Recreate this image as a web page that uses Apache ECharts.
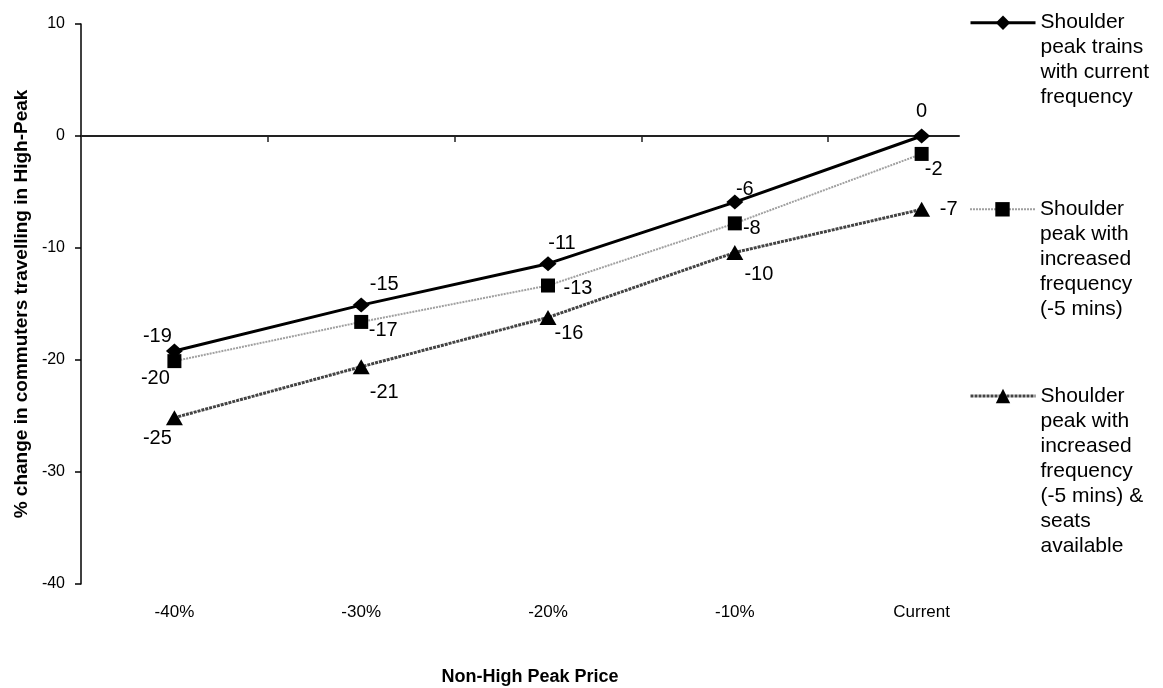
<!DOCTYPE html>
<html>
<head>
<meta charset="utf-8">
<script src="https://cdn.jsdelivr.net/npm/echarts@6/dist/echarts.min.js"></script>
<style>
  html, body { margin: 0; padding: 0; background: #fff; }
  #chart { width: 1163px; height: 688px; }
</style>
</head>
<body>
<div id="chart"></div>
<script>
// ---------- DATA ----------
const categories = ['-40%', '-30%', '-20%', '-10%', 'Current'];
const seriesNames = [
  'Shoulder peak trains with current frequency',
  'Shoulder peak with increased frequency (-5 mins)',
  'Shoulder peak with increased frequency (-5 mins) & seats available'
];
const currentFrequency = [-19.2, -15.1, -11.4, -5.9, 0];
const increasedFrequency = [-20.1, -16.6, -13.35, -7.8, -1.6];
const increasedFrequencySeats = [-25.15, -20.6, -16.2, -10.4, -6.55];
const yMin = -40, yMax = 10, yInterval = 10;
const xTitle = 'Non-High Peak Price';
const yTitle = '% change in commuters travelling in High-Peak';
const legendLines = [
  ['Shoulder', 'peak trains', 'with current', 'frequency'],
  ['Shoulder', 'peak with', 'increased', 'frequency', '(-5 mins)'],
  ['Shoulder', 'peak with', 'increased', 'frequency', '(-5 mins) &', 'seats', 'available']
];

// ---------- STYLE / LAYOUT ----------
const FONT = "'Liberation Sans', Arial, sans-serif";
const labelOffsets = [
  [[-17, -15], [23, -21], [14, -20], [10, -13], [0, -25]],
  [[-19, 17], [22, 9], [30, 3], [17, 5], [12, 16]],
  [[-17, 21], [23, 26], [21, 16], [24, 22], [27, 0]]
];
const seriesStyles = [
  { symbol: 'diamond', symbolSize: [17, 15], line: { color: '#000', width: 3, type: 'solid' }, z: 4 },
  { symbol: 'rect', symbolSize: [14, 14], line: { color: '#a0a0a0', width: 2, type: [2, 1] }, z: 3 },
  { symbol: 'triangle', symbolSize: [17, 15], line: { color: '#444', width: 3, type: [3, 1] }, z: 2 }
];
const legendLine1Y = [22.7, 209.3, 396];
const LH = 25;

const allValues = [currentFrequency, increasedFrequency, increasedFrequencySeats];

const series = allValues.map((vals, s) => ({
  name: seriesNames[s],
  type: 'line',
  xAxisIndex: 0,
  yAxisIndex: 0,
  z: seriesStyles[s].z,
  symbol: seriesStyles[s].symbol,
  symbolSize: seriesStyles[s].symbolSize,
  showAllSymbol: true,
  lineStyle: seriesStyles[s].line,
  itemStyle: { color: '#000', borderWidth: 0 },
  emphasis: { disabled: true },
  animation: false,
  data: vals.map((v, i) => ({
    value: [i, v],
    label: { offset: labelOffsets[s][i] }
  })),
  label: {
    show: true,
    position: 'inside',
    align: 'center',
    verticalAlign: 'middle',
    color: '#000',
    fontFamily: FONT,
    fontSize: 20,
    formatter: p => String(Math.round(p.value[1]))
  }
}));

const legends = seriesNames.map((name, s) => {
  const n = legendLines[s].length;
  const text = '\n'.repeat(n - 1) + legendLines[s].join('\n');
  return {
    data: [name],
    orient: 'vertical',
    left: 969,
    top: legendLine1Y[s] - (2 * n - 1) * LH / 2,
    padding: 0,
    itemWidth: 65,
    itemHeight: 18,
    selectedMode: false,
    lineStyle: { width: seriesStyles[s].line.width },
    formatter: () => text,
    textStyle: { color: '#000', fontFamily: FONT, fontSize: 21, lineHeight: LH }
  };
});

const chart = echarts.init(document.getElementById('chart'), null, { renderer: 'canvas' });
chart.setOption({
  backgroundColor: '#fff',
  animation: false,
  grid: { left: 81, right: 204, top: 24, bottom: 104, containLabel: false, outerBoundsMode: 'none' },
  legend: legends,
  xAxis: [
    {
      type: 'value',
      min: -0.5,
      max: 4.2,
      position: 'bottom',
      axisLine: { show: false, onZero: false },
      axisTick: { show: false },
      splitLine: { show: false },
      axisLabel: {
        customValues: [0, 1, 2, 3, 4],
        formatter: v => categories[Math.round(v)],
        color: '#000',
        fontFamily: FONT,
        fontSize: 17,
        margin: 20
      },
      name: xTitle,
      nameLocation: 'middle',
      nameGap: 84,
      nameTextStyle: { color: '#000', fontFamily: FONT, fontSize: 18, fontWeight: 'bold', padding: [0, 0, 0, 20] }
    },
    {
      type: 'value',
      min: -0.5,
      max: 4.2,
      position: 'bottom',
      axisLine: { show: true, onZero: true, lineStyle: { color: '#222', width: 2 } },
      axisTick: { show: true, customValues: [0.5, 1.5, 2.5, 3.5], length: 6, lineStyle: { color: '#222', width: 1.5 } },
      axisLabel: { show: false },
      splitLine: { show: false }
    }
  ],
  yAxis: {
    type: 'value',
    min: yMin,
    max: yMax,
    interval: yInterval,
    axisLine: { show: true, onZero: false, lineStyle: { color: '#000', width: 1.5 } },
    axisTick: { show: true, length: 6, lineStyle: { color: '#000', width: 1.5 } },
    splitLine: { show: false },
    axisLabel: { color: '#000', fontFamily: FONT, fontSize: 16, margin: 16 },
    name: yTitle,
    nameLocation: 'middle',
    nameGap: 48,
    nameTextStyle: { color: '#000', fontFamily: FONT, fontSize: 19, fontWeight: 'bold' }
  },
  series: series
});
</script>
</body>
</html>
